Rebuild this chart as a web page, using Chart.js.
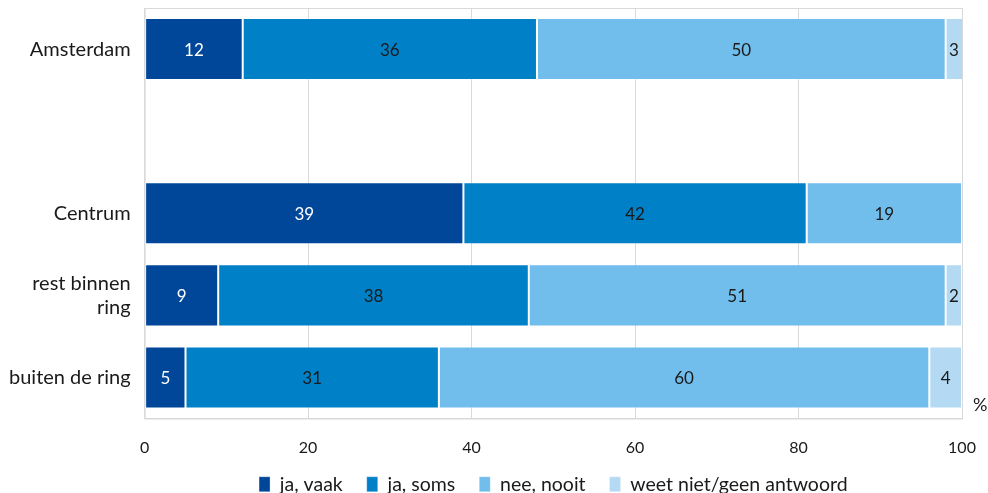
<!DOCTYPE html>
<html>
<head>
<meta charset="utf-8">
<script src="https://cdn.jsdelivr.net/npm/chart.js@4/dist/chart.umd.min.js"></script>
<style>
  html, body { margin: 0; padding: 0; background: #fff; }
  #wrap { width: 988px; height: 493px; position: relative; }
</style>
</head>
<body>
<div id="wrap"><canvas id="wijkChart"></canvas></div>
<script>
// gebieden (lege regel scheidt Amsterdam van de deelgebieden)
const gebieden = ['Amsterdam', '', 'Centrum', ['rest binnen', 'ring'], 'buiten de ring'];
const jaVaak = [12, null, 39, 9, 5];
const jaSoms = [36, null, 42, 38, 31];
const neeNooit = [50, null, 19, 51, 60];
const weetNiet = [3, null, null, 2, 4];
const xTicks = [0, 20, 40, 60, 80, 100];

const fontFam = 'Lato, "Open Sans", sans-serif';

// waarden midden in elk segment zetten
const segmentLabels = {
  id: 'segmentLabels',
  afterDatasetsDraw(chart) {
    const ctx = chart.ctx;
    const area = chart.chartArea;
    ctx.save();
    ctx.font = '17px ' + fontFam;
    ctx.textAlign = 'center';
    ctx.textBaseline = 'middle';
    chart.data.datasets.forEach((ds, i) => {
      const meta = chart.getDatasetMeta(i);
      meta.data.forEach((bar, j) => {
        const v = ds.data[j];
        if (v == null) return;
        const left = Math.min(bar.x, bar.base);
        const right = Math.min(Math.max(bar.x, bar.base), area.right);
        ctx.fillStyle = i === 0 ? '#ffffff' : '#1a1a1a';
        ctx.fillText(String(v), (left + right) / 2, bar.y + 1);
      });
    });
    ctx.restore();
  }
};

// kader om het plotgebied en het %-teken
const frame = {
  id: 'frame',
  beforeDatasetsDraw(chart) {
    const ctx = chart.ctx;
    const a = chart.chartArea;
    ctx.save();
    ctx.strokeStyle = '#d9d9d9';
    ctx.lineWidth = 1;
    ctx.strokeRect(a.left + 0.5, a.top + 0.5, a.right - a.left, a.bottom - a.top);
    ctx.restore();
  },
  afterDraw(chart) {
    const ctx = chart.ctx;
    const a = chart.chartArea;
    ctx.save();
    ctx.font = '18px ' + fontFam;
    ctx.fillStyle = '#1a1a1a';
    ctx.textAlign = 'left';
    ctx.textBaseline = 'middle';
    ctx.fillText('%', a.right + 11, a.bottom - 13);
    ctx.restore();
  }
};

const kleuren = ['#00479a', '#0080c6', '#71bdec', '#b4d9f3'];
const reeksen = [
  ['ja, vaak', jaVaak],
  ['ja, soms', jaSoms],
  ['nee, nooit', neeNooit],
  ['weet niet/geen antwoord', weetNiet]
];

new Chart(document.getElementById('wijkChart'), {
  type: 'bar',
  data: {
    labels: gebieden,
    datasets: reeksen.map(([naam, waarden], i) => ({
      label: naam,
      data: waarden,
      backgroundColor: kleuren[i],
      borderColor: 'rgba(255,255,255,0.3)',
      borderWidth: 1,
      borderSkipped: false,
      categoryPercentage: 1,
      barPercentage: 0.756
    }))
  },
  options: {
    indexAxis: 'y',
    responsive: true,
    maintainAspectRatio: false,
    animation: false,
    layout: { padding: { left: -5, right: 26, top: 8, bottom: -11 } },
    scales: {
      x: {
        stacked: true,
        min: 0,
        max: 100,
        afterBuildTicks(axis) { axis.ticks = xTicks.map(v => ({ value: v })); },
        afterFit(axis) {
          // smalle as; de legenda schuift eronder, labels niet afknippen
          axis.height = 32;
          axis.paddingLeft = 0;
          axis.paddingRight = 0;
          axis._computeLabelArea = () => undefined;
        },
        grid: { color: '#d9d9d9', drawTicks: false },
        border: { color: '#d9d9d9' },
        ticks: { padding: 20, color: '#1a1a1a', font: { family: fontFam, size: 16 } }
      },
      y: {
        stacked: true,
        afterFit(axis) {
          axis.paddingTop = 0;
          axis.paddingBottom = 0;
        },
        grid: { display: false, drawTicks: false },
        border: { color: '#d9d9d9' },
        ticks: { padding: 14, color: '#1a1a1a', font: { family: fontFam, size: 20 } }
      }
    },
    plugins: {
      legend: {
        position: 'bottom',
        fullSize: false,
        labels: {
          boxWidth: 11,
          boxHeight: 15,
          padding: 24,
          color: '#1a1a1a',
          font: { family: fontFam, size: 19.5 }
        }
      },
      tooltip: { enabled: false }
    }
  },
  plugins: [segmentLabels, frame]
});
</script>
</body>
</html>
